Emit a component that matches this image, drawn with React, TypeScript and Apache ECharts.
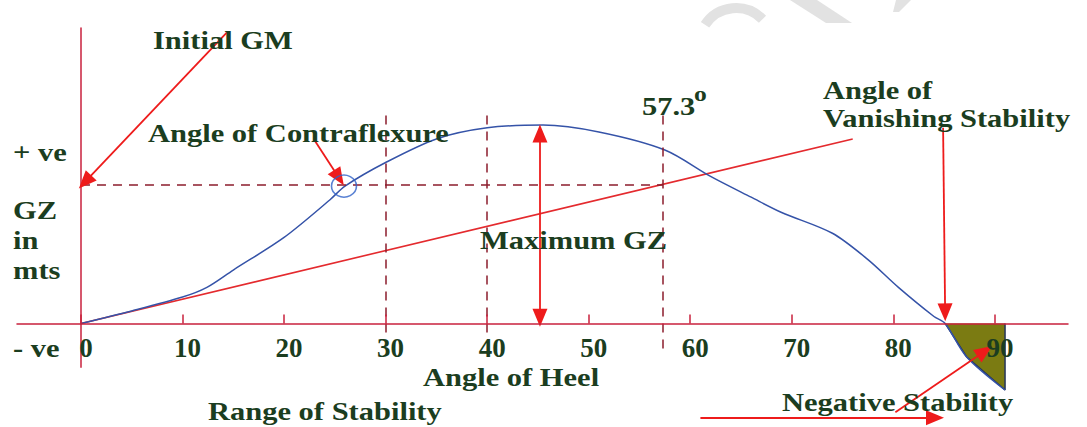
import React, { useRef, useEffect } from 'react';
import * as echarts from 'echarts';

// angle of heel (deg) and righting lever GZ (in units of initial GM)
const angleTicks = [0, 10, 20, 30, 40, 50, 60, 70, 80, 90];
const heelAngles = [0, 5, 10, 12.4, 15, 20, 24.5, 26, 30, 35, 40, 45.5, 51, 57.5, 62, 66, 69, 74, 77.5, 80.5, 84, 85.1, 87.2, 91];
const gzValues = [0, 0.09, 0.19, 0.26, 0.385, 0.62, 0.89, 0.99, 1.16, 1.33, 1.41, 1.43, 1.38, 1.25, 1.06, 0.91, 0.8, 0.65, 0.46, 0.26, 0.05, 0, -0.24, -0.48];

// negative stability region past the angle of vanishing stability
const negAngles = [85.1, 87.2, 91, 91];
const negValues = [0, -0.24, -0.48, 0];

// tangent at origin reaches GM at 1 radian
const initialGM = 1;
const radianDeg = 57.3;
const tangentAngles = [0, 76];
const tangentValues = [0, 1.33];

const contraflexure = [25.9, 0.99];
const dashedAngles = [30, 40, radianDeg];
const dashedTops = [1.5, 1.5, 1.5];
const dashedBottoms = [-0.1, -0.1, -0.19];
const gzAxisBottom = -0.32;

// annotation arrows: [fromX, fromY, toX, toY, both ends]
const arrows: [number, number, number, number, boolean][] = [
  [14.4, 2.1, 0.4, 1.02, false],
  [23.0, 1.32, 25.4, 1.05, false],
  [45.2, 1.37, 45.2, 0.04, true],
  [84.9, 1.41, 85.1, 0.08, false],
  [80.2, -0.64, 89.0, -0.2, false],
  [61.0, -0.68, 84.1, -0.68, false],
];

const GREEN = '#1b3d20';
const AXIS_RED = '#c8203c';
const ARROW_RED = '#ee1b1b';
const DASH_RED = '#8c1c2c';
const BLUE = '#3553a8';
const FAINT = '#e2e2e2';

const label = (text: string, x: number, y: number, size = 25) => ({
  type: 'text',
  x,
  y,
  scaleX: 1.22,
  z: 10,
  style: {
    text,
    fontFamily: '"Liberation Serif"',
    fontWeight: 'bold',
    fontSize: size,
    fill: GREEN,
    align: 'left',
    verticalAlign: 'middle',
    textAlign: 'left',
    textVerticalAlign: 'middle',
  },
});

const App: React.FC = () => {
  const chartRef = useRef<HTMLDivElement>(null);

  useEffect(() => {
    if (!chartRef.current) return;
    const chart = echarts.init(chartRef.current, null, { renderer: 'svg' });

    const dashedLines = dashedAngles.map((a, i) => [
      { coord: [a, dashedTops[i]] },
      { coord: [a, dashedBottoms[i]] },
    ]);
    dashedLines.push([{ coord: [0, initialGM] }, { coord: [radianDeg, initialGM] }]);

    const arrowLines = arrows.map(([x1, y1, x2, y2, both]) => [
      { coord: [x1, y1], symbol: both ? 'triangle' : 'none', symbolSize: [15, 18] },
      { coord: [x2, y2], symbol: 'triangle', symbolSize: [15, 18] },
    ]);

    const xRange = { min: -6.3, max: 97.2 };
    const hidden = { show: false };

    const option = {
      animation: false,
      backgroundColor: '#ffffff',
      // grid 0 carries the visible axes (zero line at its bottom),
      // grid 1 has the same scale but reaches below zero for the marks
      grid: [
        { left: 17, right: 19, top: 28, bottom: 103.5 },
        { left: 17, right: 19, top: 28, bottom: 6.5 },
      ],
      xAxis: [
        {
          type: 'value',
          gridIndex: 0,
          z: 8,
          ...xRange,
          axisLine: { lineStyle: { color: AXIS_RED, width: 1.5 } },
          axisTick: { inside: true, length: 9, customValues: angleTicks, lineStyle: { color: AXIS_RED, width: 1.5 } },
          axisLabel: {
            customValues: angleTicks,
            margin: 11,
            padding: [0, 0, 0, 10],
            color: GREEN,
            fontFamily: '"Liberation Serif"',
            fontWeight: 'bold',
            fontSize: 27,
          },
          splitLine: hidden,
        },
        {
          type: 'value',
          gridIndex: 1,
          ...xRange,
          axisLine: hidden,
          axisTick: hidden,
          axisLabel: hidden,
          splitLine: hidden,
        },
      ],
      yAxis: [
        {
          type: 'value',
          gridIndex: 0,
          min: 0,
          max: 2.13,
          axisLine: { show: true, onZero: true, lineStyle: { color: AXIS_RED, width: 1.5 } },
          axisTick: hidden,
          axisLabel: hidden,
          splitLine: hidden,
        },
        {
          type: 'value',
          gridIndex: 1,
          min: -0.7,
          max: 2.13,
          axisLine: hidden,
          axisTick: hidden,
          axisLabel: hidden,
          splitLine: hidden,
        },
      ],
      series: [
        {
          type: 'line',
          name: 'negative',
          xAxisIndex: 1,
          yAxisIndex: 1,
          data: negAngles.map((a, i) => [a, negValues[i]]),
          symbol: 'none',
          lineStyle: { color: '#24345a', width: 1.5 },
          areaStyle: { color: '#7b7b12', opacity: 1, origin: 0 },
          z: 2,
          markLine: {
            silent: true,
            symbol: 'none',
            label: { show: false },
            lineStyle: { color: AXIS_RED, width: 1.5, type: 'solid' },
            data: [[{ coord: [0, 0] }, { coord: [0, gzAxisBottom] }]],
          },
        },
        {
          type: 'line',
          name: 'tangent',
          xAxisIndex: 1,
          yAxisIndex: 1,
          data: tangentAngles.map((a, i) => [a, tangentValues[i]]),
          symbol: 'none',
          lineStyle: { color: '#e42a2e', width: 1.6 },
          z: 3,
        },
        {
          type: 'line',
          name: 'GZ',
          xAxisIndex: 1,
          yAxisIndex: 1,
          data: heelAngles.map((a, i) => [a, gzValues[i]]),
          smooth: 0.3,
          symbol: 'none',
          lineStyle: { color: BLUE, width: 1.5 },
          z: 4,
          markLine: {
            silent: true,
            symbol: 'none',
            label: { show: false },
            lineStyle: { color: DASH_RED, width: 1.5, type: [9, 7] },
            data: dashedLines,
          },
        },
        {
          type: 'scatter',
          name: 'contraflexure',
          xAxisIndex: 1,
          yAxisIndex: 1,
          data: [contraflexure],
          symbol: 'circle',
          symbolSize: [25, 22],
          itemStyle: { color: 'rgba(0,0,0,0)', borderColor: '#2f62c8', borderWidth: 1.5 },
          z: 5,
        },
        {
          type: 'line',
          name: 'arrows',
          xAxisIndex: 1,
          yAxisIndex: 1,
          data: [],
          markLine: {
            silent: true,
            label: { show: false },
            lineStyle: { color: ARROW_RED, width: 1.8, type: 'solid' },
            itemStyle: { color: ARROW_RED },
            data: arrowLines,
          },
          z: 6,
        },
      ],
      graphic: [
        // faint watermark strokes at the top edge
        { type: 'arc', shape: { cx: 736, cy: 45, r: 37, startAngle: 3.72, endAngle: 5.51 }, style: { stroke: FAINT, lineWidth: 10, fill: null }, z: 0 },
        { type: 'polygon', shape: { points: [[790, 0], [817, 0], [852, 23], [826, 23]] }, style: { fill: FAINT }, z: 0 },
        { type: 'polygon', shape: { points: [[896, 0], [911, 0], [899, 12], [893, 12]] }, style: { fill: FAINT }, z: 0 },
        label('Initial GM', 153, 40),
        label('Angle of Contraflexure', 148, 133),
        label('+ ve', 13, 152),
        label('GZ', 13, 210),
        label('in', 13, 240),
        label('mts', 13, 270),
        label('- ve', 13, 348),
        label('Angle of', 823, 90),
        label('Vanishing Stability', 823, 118),
        label('Maximum GZ', 480, 240),
        label('Angle of Heel', 423, 377),
        label('Range of Stability', 208, 411),
        label('Negative Stability', 782, 402),
        label('57.3', 642, 106),
        label('o', 694, 94, 21),
      ],
    };
    chart.setOption(option);

    return () => {
      chart.dispose();
    };
  }, []);

  return (
    <div ref={chartRef} style={{ position: 'absolute', left: 0, top: 0, width: 1087, height: 427 }} />
  );
};

export default App;
